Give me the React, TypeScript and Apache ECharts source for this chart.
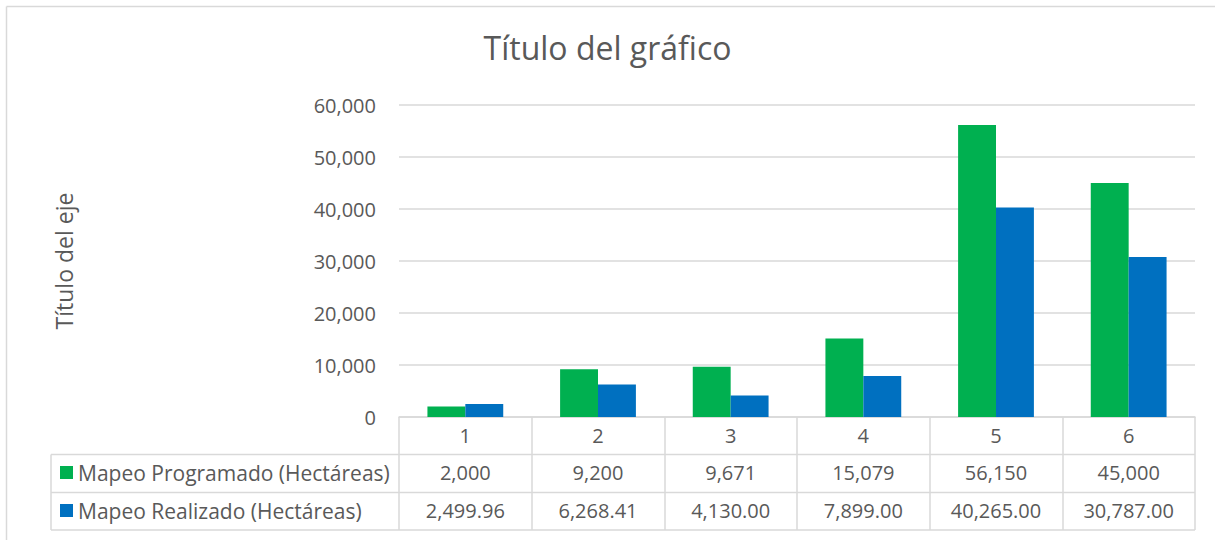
import React, { useEffect, useRef } from "react";
import * as echarts from "echarts";

const categories = ["1", "2", "3", "4", "5", "6"];
const programado = [2000, 9200, 9671, 15079, 56150, 45000];
const realizado = [2499.96, 6268.41, 4130.0, 7899.0, 40265.0, 30787.0];
const seriesNames = ["Mapeo Programado (Hectáreas)", "Mapeo Realizado (Hectáreas)"];
const titleText = "Título del gráfico";
const yAxisTitle = "Título del eje";

const fmt0 = (v: number) => v.toLocaleString("en-US", { maximumFractionDigits: 0 });
const fmt2 = (v: number) =>
  v.toLocaleString("en-US", { minimumFractionDigits: 2, maximumFractionDigits: 2 });

const FONT = "'Open Sans', sans-serif";
const TXT = "#595959";
const GRID = "#D9D9D9";
const GREEN = "#00B050";
const BLUE = "#0070C0";

export default function App() {
  const ref = useRef<HTMLDivElement>(null);
  useEffect(() => {
    if (!ref.current) return;
    const chart = echarts.init(ref.current, undefined, { renderer: "svg" });
    const lbl = { color: TXT, fontFamily: FONT, fontSize: 20, margin: 8, interval: 0 };
    chart.setOption({
      animation: false,
      backgroundColor: "#fff",
      textStyle: { fontFamily: FONT },
      title: {
        text: titleText,
        left: "center",
        top: 31,
        padding: [0, 0, 0, 14],
        textStyle: { color: TXT, fontFamily: FONT, fontSize: 32, fontWeight: "normal" },
      },
      legend: {
        orient: "vertical",
        left: 60,
        top: 462,
        padding: 0,
        icon: "rect",
        itemWidth: 13,
        itemHeight: 13,
        itemGap: 17,
        selectedMode: false,
        textStyle: { color: TXT, fontFamily: FONT, fontSize: 21, lineHeight: 21 },
        data: seriesNames,
      },
      grid: { left: 399, right: 20, top: 105, bottom: 123, containLabel: false },
      xAxis: [
        {
          type: "category",
          data: categories,
          position: "bottom",
          axisLine: { lineStyle: { color: GRID, width: 1.5 } },
          axisTick: { show: true, length: 113, lineStyle: { color: GRID, width: 1.5 } },
          axisLabel: lbl,
        },
        {
          type: "category",
          data: programado.map(fmt0),
          position: "bottom",
          offset: 37.5,
          axisLine: { show: false },
          axisTick: { show: false },
          axisLabel: lbl,
        },
        {
          type: "category",
          data: realizado.map(fmt2),
          position: "bottom",
          offset: 75.5,
          axisLine: { show: false },
          axisTick: { show: false },
          axisLabel: lbl,
        },
      ],
      yAxis: {
        type: "value",
        min: 0,
        max: 60000,
        interval: 10000,
        name: yAxisTitle,
        nameLocation: "middle",
        nameGap: 324,
        nameTextStyle: { color: TXT, fontFamily: FONT, fontSize: 23 },
        axisLine: { show: false },
        axisTick: { show: false },
        splitLine: { lineStyle: { color: GRID, width: 1.5 } },
        axisLabel: {
          color: TXT,
          fontFamily: FONT,
          fontSize: 20,
          margin: 23,
          formatter: (v: number) => fmt0(v),
        },
      },
      series: [
        {
          name: seriesNames[0],
          type: "bar",
          data: programado,
          itemStyle: { color: GREEN },
          barGap: "0%",
          barCategoryGap: "42.86%",
        },
        {
          name: seriesNames[1],
          type: "bar",
          data: realizado,
          itemStyle: { color: BLUE },
          barGap: "0%",
          barCategoryGap: "42.86%",
        },
      ],
      graphic: [
        { type: "line", shape: { x1: 6.5, y1: 6.5, x2: 1215, y2: 6.5 }, style: { stroke: GRID, lineWidth: 1.5 } },
        { type: "line", shape: { x1: 6.5, y1: 6.5, x2: 6.5, y2: 540 }, style: { stroke: GRID, lineWidth: 1.5 } },
        { type: "line", shape: { x1: 51, y1: 454.5, x2: 1195, y2: 454.5 }, style: { stroke: GRID, lineWidth: 1.5 } },
        { type: "line", shape: { x1: 51, y1: 492.5, x2: 1195, y2: 492.5 }, style: { stroke: GRID, lineWidth: 1.5 } },
        { type: "line", shape: { x1: 51, y1: 530, x2: 1195, y2: 530 }, style: { stroke: GRID, lineWidth: 1.5 } },
        { type: "line", shape: { x1: 51, y1: 454.5, x2: 51, y2: 530 }, style: { stroke: GRID, lineWidth: 1.5 } },
      ],
    });
    return () => chart.dispose();
  }, []);
  return (
    <div
      ref={ref}
      style={{ position: "absolute", left: 0, top: 0, width: 1215, height: 540 }}
    />
  );
}
